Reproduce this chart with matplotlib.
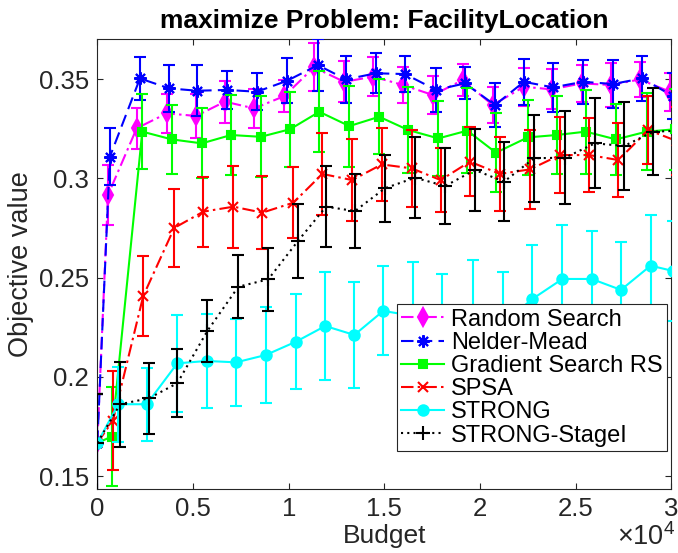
import numpy as np
import matplotlib
matplotlib.use("Agg")
import matplotlib.pyplot as plt
from matplotlib.ticker import FuncFormatter, FixedLocator

plt.rcParams['font.family'] = ['Liberation Sans', 'DejaVu Sans']
plt.rcParams['mathtext.fontset'] = 'custom'
plt.rcParams['mathtext.rm'] = 'Liberation Sans'

# budget (x) and objective mean / half-width (y) for each solver
rs_x = [0, 560, 2060, 3630, 5160, 6670, 8200, 9770, 11320, 12900, 14420,
        15960, 17550, 19090, 20660, 22290, 23740, 25310, 26840, 28350, 29920]
rs_y = [0.1667, 0.2916, 0.3252, 0.3327, 0.3314, 0.3386, 0.3352, 0.3414, 0.3559, 0.3486, 0.3512,
        0.3470, 0.3419, 0.3495, 0.3369, 0.3461, 0.3448, 0.3478, 0.3470, 0.3498, 0.3436]
rs_e = [0.0245, 0.015, 0.0103, 0.010, 0.011, 0.0105, 0.010, 0.008, 0.012, 0.0103, 0.010,
        0.009, 0.0095, 0.0082, 0.009, 0.0097, 0.010, 0.0095, 0.011, 0.009, 0.0095]

nm_x = [0, 660, 2230, 3750, 5210, 6780, 8340, 9910, 11530, 12990, 14560,
        16080, 17700, 19210, 20780, 22290, 23810, 25380, 26940, 28460, 30080]
nm_y = [0.1667, 0.3109, 0.3503, 0.3453, 0.3441, 0.3445, 0.3436, 0.3491, 0.3570, 0.3498, 0.3529,
        0.3525, 0.3445, 0.3478, 0.3369, 0.3486, 0.3458, 0.3486, 0.3475, 0.3503, 0.3414]
nm_e = [0.0245, 0.0145, 0.0107, 0.012, 0.0128, 0.0095, 0.0092, 0.0113, 0.013, 0.012, 0.0101,
        0.009, 0.0113, 0.0081, 0.0112, 0.0117, 0.0125, 0.011, 0.012, 0.0115, 0.0117]

gs_x = [0, 750, 2350, 3890, 5460, 6990, 8540, 10070, 11600, 13170, 14730,
        16250, 17820, 19330, 20830, 22490, 24000, 25520, 27100, 28700, 30190]
gs_y = [0.1667, 0.1699, 0.3235, 0.3196, 0.3176, 0.3218, 0.3209, 0.3247, 0.3335, 0.3263, 0.3310,
        0.3243, 0.3201, 0.3240, 0.3129, 0.3206, 0.3218, 0.3235, 0.3196, 0.3235, 0.3247]
gs_e = [0.0245, 0.025, 0.019, 0.0173, 0.0176, 0.020, 0.0204, 0.019, 0.0203, 0.0204, 0.019,
        0.0218, 0.019, 0.0214, 0.020, 0.019, 0.0195, 0.0212, 0.018, 0.0195, 0.0205]

sp_x = [0, 820, 2400, 4020, 5540, 7110, 8620, 10240, 11760, 13320, 14860,
        16430, 17940, 19470, 21040, 22610, 24170, 25710, 27220, 28790, 30270]
sp_y = [0.1667, 0.178, 0.2407, 0.2750, 0.2832, 0.2857, 0.2827, 0.2877, 0.3022, 0.2991, 0.3070,
        0.3050, 0.2991, 0.3084, 0.3022, 0.3045, 0.3117, 0.3117, 0.3092, 0.3243, 0.3188]
sp_e = [0.0245, 0.025, 0.020, 0.0198, 0.0177, 0.0207, 0.0183, 0.018, 0.0205, 0.0206, 0.0183,
        0.0195, 0.016, 0.0175, 0.0187, 0.020, 0.0193, 0.0186, 0.0185, 0.017, 0.017]

st_x = [0, 1100, 2580, 4180, 5720, 7250, 8800, 10380, 11910, 13430, 14940,
        16510, 17990, 19650, 21210, 22730, 24300, 25830, 27360, 28910, 30090]
st_y = [0.1667, 0.1862, 0.1862, 0.2068, 0.2080, 0.2073, 0.2110, 0.2177, 0.2256, 0.2211, 0.2332,
        0.2307, 0.2260, 0.2320, 0.2270, 0.2392, 0.2493, 0.2493, 0.2438, 0.2560, 0.2533]
st_e = [0.0245, 0.019, 0.0185, 0.0243, 0.0236, 0.022, 0.024, 0.0239, 0.0273, 0.0268, 0.0224,
        0.027, 0.026, 0.027, 0.026, 0.027, 0.027, 0.024, 0.024, 0.0255, 0.025]

s1_x = [0, 1190, 2700, 4180, 5750, 7370, 8930, 10500, 11950, 13460, 15030,
        16600, 18170, 19730, 21250, 22820, 24440, 26000, 27530, 29050, 30600]
s1_y = [0.1667, 0.1862, 0.1892, 0.1968, 0.2231, 0.2454, 0.2491, 0.2686, 0.2857, 0.2835, 0.2950,
        0.3003, 0.2961, 0.3042, 0.2983, 0.3101, 0.3104, 0.3176, 0.3163, 0.3235, 0.3240]
s1_e = [0.0245, 0.0214, 0.018, 0.017, 0.0155, 0.016, 0.0157, 0.0186, 0.0203, 0.0185, 0.0168,
        0.0204, 0.0193, 0.0207, 0.0199, 0.0218, 0.0235, 0.0227, 0.0222, 0.022, 0.022]

names = ['Random Search', 'Nelder-Mead', 'Gradient Search RS', 'SPSA', 'STRONG', 'STRONG-StageI']

x_ticks = [0, 5000, 10000, 15000, 20000, 25000, 30000]
y_ticks = [0.15, 0.2, 0.25, 0.3, 0.35]

axis_col = '#262626'


def main():
    fig = plt.figure(figsize=(6.78, 5.53), dpi=100)
    ax = fig.add_axes([0.1435, 0.1157, 0.8469, 0.8132])

    series = [
        (rs_x, rs_y, rs_e, '#FF00FF', (0, (6, 2, 1.2, 2)), 'd', 9),
        (nm_x, nm_y, nm_e, '#0000FF', (0, (6, 3)), (8, 2, 0), 9),
        (gs_x, gs_y, gs_e, '#00FF00', '-', 's', 5.5),
        (sp_x, sp_y, sp_e, '#FF0000', (0, (6, 2, 1.2, 2)), 'x', 7),
        (st_x, st_y, st_e, '#00FFFF', '-', 'o', 7.5),
        (s1_x, s1_y, s1_e, '#000000', (0, (1, 2)), '+', 10),
    ]

    handles = []
    for i, (x, y, e, col, ls, mk, ms) in enumerate(series):
        ax.errorbar(x, y, yerr=e, fmt='none', ecolor=col, elinewidth=1.5,
                    capsize=4, capthick=1.5, zorder=2 + i)
        ln, = ax.plot(x, y, color=col, linestyle=ls, linewidth=1.5,
                      marker=mk, markersize=ms, markerfacecolor=col,
                      markeredgecolor=col, markeredgewidth=1.5,
                      label=names[i], zorder=2 + i)
        handles.append(ln)

    ax.set_xlim(0, 30000)
    ax.set_ylim(0.1435, 0.37)
    ax.xaxis.set_major_locator(FixedLocator(x_ticks))
    ax.yaxis.set_major_locator(FixedLocator(y_ticks))
    ax.xaxis.set_major_formatter(FuncFormatter(lambda v, p: '%g' % (v / 1e4)))
    ax.yaxis.set_major_formatter(FuncFormatter(lambda v, p: '%g' % v))

    ax.tick_params(direction='in', length=4, width=0.8, colors=axis_col,
                   labelsize=18.5, top=True, right=True, pad=6)
    for sp in ax.spines.values():
        sp.set_color(axis_col)
        sp.set_linewidth(0.8)

    ax.set_title('maximize Problem: FacilityLocation', fontsize=19,
                 fontweight='bold', pad=8)
    ax.set_xlabel('Budget', fontsize=19, color=axis_col, labelpad=2)
    ax.set_ylabel('Objective value', fontsize=19.5, color=axis_col)
    ax.yaxis.set_label_coords(-0.11, 0.5)
    fig.text(0.91, 0.004, r'$\mathregular{\times10^{4}}$', fontsize=19.5,
             color=axis_col, ha='left', va='bottom')

    leg = ax.legend(handles=handles, loc='upper left', bbox_to_anchor=(0.5214, 0.4114),
                    fontsize=17, numpoints=1, handlelength=1.8, handletextpad=0.3,
                    labelspacing=0.05, borderpad=0.2, borderaxespad=0,
                    fancybox=False, framealpha=1, edgecolor=axis_col)
    leg.get_frame().set_linewidth(0.8)
    leg.set_zorder(20)

    fig.savefig('out.png', dpi=100)


if __name__ == "__main__":
    main()
